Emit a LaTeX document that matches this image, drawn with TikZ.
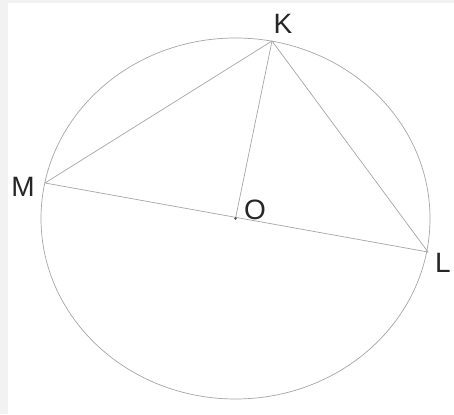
\documentclass[tikz,border=0pt]{standalone}
\usepackage{fontspec}
\setmainfont{Liberation Sans}
\begin{document}
\begin{tikzpicture}[x=1pt,y=1pt,
  geo/.style={draw=black!35, line width=0.7pt},
  lbl/.style={font=\fontsize{28}{28}\selectfont, inner sep=0pt, text=black!85}]
\fill[black!5] (0,0) rectangle (454,414);
\fill[white] (8,0) rectangle (454,411);
\useasboundingbox (0,0) rectangle (454,414);
\coordinate (O) at (235.5,195.5);
\coordinate (K) at (272,373);
\coordinate (M) at (45,231);
\coordinate (L) at (428,162);
\draw[geo] (O) ellipse [x radius=194.5, y radius=180.5];
\draw[geo] (M) -- (K) -- (L) -- (M);
\draw[geo] (K) -- (O);
\fill[black!70] (O) circle (1.3);
\node[lbl] (kl) at (283,390) {K};
\node[lbl] (ml) at (23,227) {M};
\node[lbl] (ll) at (443,151) {L};
\node[lbl] (ol) at (255,204) {O};
\end{tikzpicture}
\end{document}
